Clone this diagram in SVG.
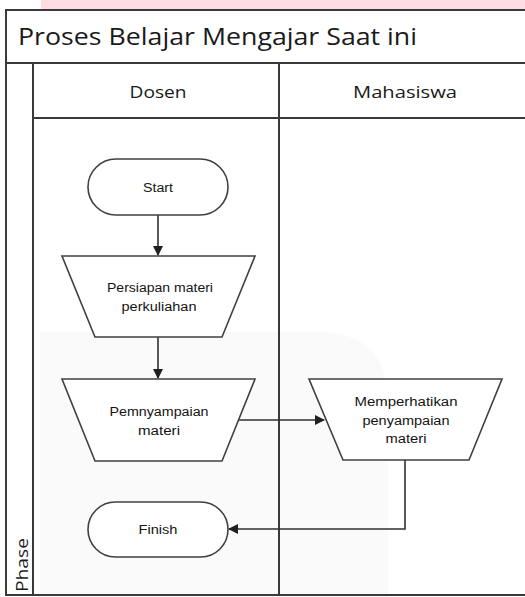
<svg xmlns="http://www.w3.org/2000/svg" width="525" height="597" viewBox="0 0 525 597">
<style>
.frame{fill:none;stroke:#3a3a3a;stroke-width:2}
.shape{fill:#ffffff;stroke:#404040;stroke-width:1.6}
.conn{fill:none;stroke:#303030;stroke-width:1.6}
.lbl{font-family:"Liberation Sans",Arial,sans-serif;font-size:12px;fill:#141414;text-anchor:middle}
.hdr{font-family:"Open Sans","Liberation Sans",sans-serif;fill:#1a1a1a}
</style>
<defs>
<marker id="arr" markerWidth="10" markerHeight="10" refX="9" refY="5" orient="auto" markerUnits="userSpaceOnUse">
<path d="M0,0 L10,5 L0,10 Z" fill="#202020"/>
</marker>
</defs>
<rect x="0" y="0" width="525" height="597" fill="#ffffff"/>
<rect x="41" y="0" width="484" height="9" fill="#fcdde1"/>
<path d="M40,332 L318,332 Q388,332 388,402 L388,597 L40,597 Z" fill="#fafafa"/>
<g id="pool">
<path class="frame" d="M526,10 L6,10 L6,595 L526,595"/>
<line class="frame" x1="6" y1="63" x2="526" y2="63"/>
<line class="frame" x1="33" y1="118" x2="526" y2="118"/>
<line class="frame" x1="33" y1="63" x2="33" y2="595"/>
<line class="frame" x1="279" y1="63" x2="279" y2="595"/>
<text class="hdr" x="18" y="45" font-size="23" textLength="399" lengthAdjust="spacingAndGlyphs">Proses Belajar Mengajar Saat ini</text>
<text class="hdr" x="158" y="98" font-size="16" text-anchor="middle" textLength="57" lengthAdjust="spacingAndGlyphs">Dosen</text>
<text class="hdr" x="405" y="98" font-size="16" text-anchor="middle" textLength="104" lengthAdjust="spacingAndGlyphs">Mahasiswa</text>
<text class="hdr" font-size="16" transform="translate(28,592) rotate(-90)" textLength="54" lengthAdjust="spacingAndGlyphs">Phase</text>
</g>
<g id="connectors">
<line class="conn" x1="158" y1="215" x2="158" y2="255" marker-end="url(#arr)"/>
<line class="conn" x1="158" y1="337" x2="158" y2="378" marker-end="url(#arr)"/>
<line class="conn" x1="238" y1="420" x2="324" y2="420" marker-end="url(#arr)"/>
<polyline class="conn" points="405,460 405,529 229,529" marker-end="url(#arr)"/>
</g>
<g id="start">
<rect class="shape" x="88" y="159" width="140" height="56" rx="28" ry="28"/>
<text class="lbl" x="158" y="192" textLength="30" lengthAdjust="spacingAndGlyphs">Start</text>
</g>
<g id="persiapan">
<polygon class="shape" points="62,256 255,256 222,337 95,337"/>
<text class="lbl" x="160" y="292" textLength="106" lengthAdjust="spacingAndGlyphs">Persiapan materi</text>
<text class="lbl" x="159" y="311" textLength="75" lengthAdjust="spacingAndGlyphs">perkuliahan</text>
</g>
<g id="penyampaian">
<polygon class="shape" points="62,379 255,379 222,461 95,461"/>
<text class="lbl" x="159" y="416" textLength="99" lengthAdjust="spacingAndGlyphs">Pemnyampaian</text>
<text class="lbl" x="159" y="435" textLength="42" lengthAdjust="spacingAndGlyphs">materi</text>
</g>
<g id="memperhatikan">
<polygon class="shape" points="309,379 502,379 469,460 343,460"/>
<text class="lbl" x="406" y="406" textLength="103" lengthAdjust="spacingAndGlyphs">Memperhatikan</text>
<text class="lbl" x="406" y="425" textLength="87" lengthAdjust="spacingAndGlyphs">penyampaian</text>
<text class="lbl" x="406" y="443" textLength="41" lengthAdjust="spacingAndGlyphs">materi</text>
</g>
<g id="finish">
<rect class="shape" x="88" y="502" width="140" height="55" rx="27.5" ry="27.5"/>
<text class="lbl" x="158" y="534" textLength="39" lengthAdjust="spacingAndGlyphs">Finish</text>
</g>
</svg>
